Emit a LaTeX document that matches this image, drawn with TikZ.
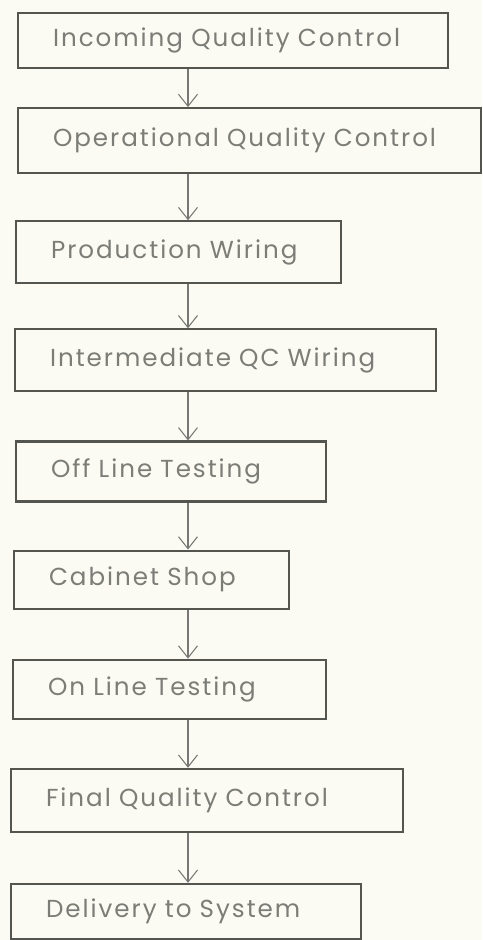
\documentclass[tikz,border=0pt]{standalone}
\usepackage{fontspec}
\setmainfont{Poppins}[LetterSpace=8]
\usetikzlibrary{positioning,arrows.meta}
\definecolor{qcpaper}{RGB}{252,251,243}
\definecolor{qcline}{RGB}{85,85,80}
\definecolor{qctext}{RGB}{125,125,120}
\tikzset{
  qc/.style={font=\fontsize{14}{16}\selectfont, text=qctext},
  qcbox/.style={
    qc, draw=qcline, line width=1.2pt, align=left,
    inner xsep=0.7cm, minimum height=1.2cm, text width=#1
  },
  qcarr/.style={-{Straight Barb[length=2.4mm,width=3.8mm]}, line width=0.6pt, draw=qcline!80},
}

\begin{document}
\begin{tikzpicture}[qc, node distance=0.96cm]
    % Fondo y marco
    \fill[qcpaper] (0,0) rectangle (9.64,-18.8);
    \useasboundingbox (0,0) rectangle (9.64,-18.8);

    % Etapas
    \node[qcbox=7.2cm, minimum height=1.1cm, anchor=north west] (incoming) at (0.34,-0.24) {Incoming Quality Control};
    \node[qcbox=7.86cm, minimum height=1.3cm, below=0.76cm of incoming.south west, anchor=north west] (operational) {Operational Quality Control};
    \node[qcbox=5.1cm, minimum height=1.24cm, below=0.92cm of operational.south west, anchor=north west, xshift=-0.04cm] (production) {Production Wiring};
    \node[qcbox=7.02cm, minimum height=1.24cm, below=0.88cm of production.south west, anchor=north west, xshift=-0.02cm] (intermediate) {Intermediate QC Wiring};
    \node[qcbox=4.8cm, below=of intermediate.south west, anchor=north west, xshift=0.02cm] (offline) {Off Line Testing};
    \node[qcbox=4.1cm, minimum height=1.16cm, below=0.94cm of offline.south west, anchor=north west, xshift=-0.04cm] (cabinet) {Cabinet Shop};
    \node[qcbox=4.86cm, minimum height=1.18cm, below=0.98cm of cabinet.south west, anchor=north west, xshift=-0.02cm] (online) {On Line Testing};
    \node[qcbox=6.44cm, minimum height=1.26cm, below=of online.south west, anchor=north west, xshift=-0.04cm] (final) {Final Quality Control};
    \node[qcbox=5.6cm, minimum height=1.1cm, below=1.0cm of final.south west, anchor=north west] (delivery) {Delivery to System};

    % Flechas
    \coordinate (ax) at (3.76,0);
    \draw[qcarr] (incoming.south -| ax) -- (operational.north -| ax);
    \draw[qcarr] (operational.south -| ax) -- (production.north -| ax);
    \draw[qcarr] (production.south -| ax) -- (intermediate.north -| ax);
    \draw[qcarr] (intermediate.south -| ax) -- (offline.north -| ax);
    \draw[qcarr] (offline.south -| ax) -- (cabinet.north -| ax);
    \draw[qcarr] (cabinet.south -| ax) -- (online.north -| ax);
    \draw[qcarr] (online.south -| ax) -- (final.north -| ax);
    \draw[qcarr] (final.south -| ax) -- (delivery.north -| ax);
  \end{tikzpicture}
\end{document}
